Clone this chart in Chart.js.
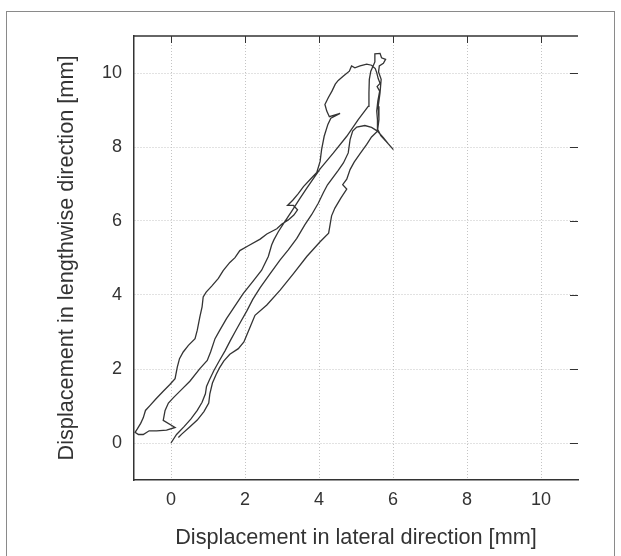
<!DOCTYPE html>
<html>
<head>
<meta charset="utf-8">
<script src="https://cdn.jsdelivr.net/npm/chart.js@4/dist/chart.umd.min.js"></script>
<style>
  html, body { margin: 0; padding: 0; background: #fff; }
  #wrap { position: relative; width: 621px; height: 556px; overflow: hidden; }
  #frame { position: absolute; left: 6px; top: 11px; width: 607px; height: 600px; border: 1px solid #8a8a8a; }
  #chart { position: absolute; left: 0; top: 0; }
</style>
</head>
<body>
<div id="wrap">
  <div id="frame"></div>
  <canvas id="chart" width="621" height="556"></canvas>
</div>
<script>
// tick values on both axes [mm]
const xTicks = [0, 2, 4, 6, 8, 10];
const yTicks = [0, 2, 4, 6, 8, 10];

// trajectory pieces, [lateral mm, lengthwise mm], in the order they were travelled
const riseFromOrigin = [
  [0, 0], [0.15, 0.23], [0.36, 0.45], [0.54, 0.65], [0.71, 0.88], [0.84, 1.10], [0.93, 1.33],
  [0.96, 1.53], [1.04, 1.71], [1.16, 1.96], [1.31, 2.23], [1.46, 2.49], [1.61, 2.78], [1.73, 3.00],
  [1.88, 3.27], [2.05, 3.57], [2.21, 3.88], [2.41, 4.20], [2.68, 4.58], [2.95, 4.95], [3.17, 5.22],
  [3.40, 5.53], [3.62, 5.90], [3.80, 6.17], [3.98, 6.48], [4.12, 6.77], [4.23, 6.98], [4.52, 7.37],
  [4.66, 7.57], [4.79, 7.84], [4.84, 8.20], [4.91, 8.43], [5.02, 8.54], [5.24, 8.58], [5.42, 8.53],
  [5.58, 8.43]
];
const tailSpike = [
  [5.74, 8.25], [5.87, 8.09], [6.01, 7.93], [5.83, 8.13], [5.67, 8.31], [5.59, 8.47]
];
const climbRightEdge = [
  [5.58, 8.74], [5.56, 8.97], [5.59, 9.24], [5.64, 9.51], [5.57, 9.63], [5.65, 9.72], [5.60, 9.85],
  [5.56, 10.01], [5.52, 10.12]
];
const upperLeftDescent = [
  [5.42, 10.21], [5.29, 10.24], [5.11, 10.19], [4.97, 10.14], [4.88, 10.19], [4.82, 10.05],
  [4.66, 9.92], [4.52, 9.80], [4.44, 9.70], [4.35, 9.51], [4.25, 9.33], [4.16, 9.15], [4.21, 8.97],
  [4.28, 8.82], [4.57, 8.91], [4.32, 8.78], [4.24, 8.61], [4.14, 8.29], [4.07, 7.93], [4.03, 7.61],
  [3.94, 7.31], [3.76, 7.12], [3.58, 6.93], [3.44, 6.74], [3.29, 6.56], [3.15, 6.42], [3.31, 6.42],
  [3.42, 6.30], [3.32, 6.16], [3.17, 6.03], [2.99, 5.91]
];
const lowerLeftDescent = [
  [2.86, 5.79], [2.59, 5.65], [2.41, 5.51], [2.09, 5.33], [1.86, 5.20], [1.73, 5.01], [1.59, 4.88],
  [1.41, 4.66], [1.28, 4.45], [1.10, 4.24], [0.95, 4.08], [0.87, 3.95], [0.84, 3.68], [0.78, 3.41],
  [0.71, 3.05], [0.65, 2.82], [0.47, 2.64], [0.33, 2.46], [0.23, 2.28], [0.17, 2.05], [0.11, 1.74],
  [-0.03, 1.58], [-0.21, 1.40], [-0.41, 1.19], [-0.57, 1.01], [-0.69, 0.88], [-0.75, 0.68],
  [-0.82, 0.53], [-0.91, 0.38], [-0.97, 0.29]
];
const bottomTurn = [
  [-0.88, 0.23], [-0.75, 0.23], [-0.59, 0.33], [-0.39, 0.33], [-0.12, 0.35], [0.11, 0.42], [-0.21, 0.61]
];
const middleRise = [
  [-0.16, 0.88], [-0.07, 1.08], [0.06, 1.22], [0.29, 1.45], [0.51, 1.67], [0.78, 2.01], [0.98, 2.23],
  [1.07, 2.46], [1.19, 2.82], [1.32, 3.05], [1.50, 3.36], [1.68, 3.63], [1.95, 4.04], [2.23, 4.39],
  [2.45, 4.67], [2.63, 5.04], [2.72, 5.35], [2.78, 5.49], [2.90, 5.71], [3.08, 5.99], [3.26, 6.26],
  [3.49, 6.62], [3.67, 6.89], [4.03, 7.41], [4.39, 7.84], [4.75, 8.29], [5.06, 8.74], [5.33, 9.10],
  [5.35, 9.47], [5.36, 9.83], [5.40, 10.05], [5.51, 10.30]
];
const topSquiggle = [
  [5.51, 10.52], [5.65, 10.53], [5.69, 10.41], [5.80, 10.37], [5.74, 10.26], [5.63, 10.19]
];
const rightEdgeDescent = [
  [5.61, 10.03], [5.68, 9.83], [5.65, 9.47], [5.60, 9.10], [5.62, 8.74], [5.58, 8.43]
];
const returnToStart = [
  [5.42, 8.27], [5.29, 8.07], [5.11, 7.82], [4.95, 7.59], [4.84, 7.39], [4.75, 7.13], [4.64, 6.98],
  [4.75, 6.86], [4.59, 6.62], [4.43, 6.35], [4.34, 6.14], [4.30, 5.90], [4.26, 5.67], [4.03, 5.44],
  [3.67, 5.04], [3.31, 4.58], [2.95, 4.13], [2.59, 3.73], [2.27, 3.45], [2.15, 3.16], [1.97, 2.73],
  [1.82, 2.55], [1.59, 2.40], [1.43, 2.22], [1.31, 2.03], [1.22, 1.85], [1.12, 1.62], [1.05, 1.33],
  [1.02, 1.08], [0.89, 0.85], [0.71, 0.62], [0.49, 0.42], [0.29, 0.24], [0.20, 0.15]
];

const path = [
  ...riseFromOrigin, ...tailSpike, ...climbRightEdge, ...upperLeftDescent, ...lowerLeftDescent,
  ...bottomTurn, ...middleRise, ...topSquiggle, ...rightEdgeDescent, ...returnToStart
].map(([x, y]) => ({ x, y }));

const FONT = "'Liberation Sans', Arial, Helvetica, sans-serif";
const ink = "#333";

// top border plus the small inward tics on top and right (gnuplot style)
const frameExtras = {
  id: "frameExtras",
  afterDraw(chart) {
    const { ctx, chartArea, scales } = chart;
    const { left, right, top } = chartArea;
    ctx.save();
    ctx.strokeStyle = ink;
    ctx.lineWidth = 1.5;
    ctx.beginPath();
    ctx.moveTo(left, top);
    ctx.lineTo(right, top);
    ctx.stroke();
    ctx.lineWidth = 1;
    ctx.beginPath();
    xTicks.forEach((v) => {
      const px = Math.round(scales.x.getPixelForValue(v)) + 0.5;
      ctx.moveTo(px, top);
      ctx.lineTo(px, top + 7);
    });
    yTicks.forEach((v) => {
      const py = Math.round(scales.y.getPixelForValue(v)) + 0.5;
      ctx.moveTo(right, py);
      ctx.lineTo(right - 8, py);
    });
    ctx.stroke();
    ctx.restore();
  },
};

new Chart(document.getElementById("chart"), {
  type: "scatter",
  data: {
    datasets: [
      {
        data: path,
        showLine: true,
        borderColor: "#343434",
        borderWidth: 1.3,
        pointRadius: 0,
        tension: 0,
        fill: false,
      },
    ],
  },
  options: {
    responsive: false,
    animation: false,
    events: [],
    layout: { padding: { left: 54, top: 36, right: 43, bottom: 5 } },
    plugins: { legend: { display: false }, tooltip: { enabled: false } },
    scales: {
      x: {
        type: "linear",
        min: -1,
        max: 11,
        afterBuildTicks: (scale) => { scale.ticks = xTicks.map((v) => ({ value: v })); },
        afterFit: (scale) => { scale.height = 71; },
        grid: { color: "#c4c4c4", lineWidth: 1, drawTicks: false },
        border: { display: true, color: ink, width: 1.5, dash: [1, 2] },
        ticks: { color: ink, padding: 9, font: { family: FONT, size: 18 } },
        title: {
          display: true,
          text: "Displacement in lateral direction [mm]",
          color: ink,
          padding: 0,
          font: { family: FONT, size: 21.7 },
        },
      },
      y: {
        type: "linear",
        min: -1,
        max: 11,
        afterBuildTicks: (scale) => { scale.ticks = yTicks.map((v) => ({ value: v })); },
        afterFit: (scale) => { scale.width = 80; },
        grid: { color: "#c4c4c4", lineWidth: 1, drawTicks: false },
        border: { display: true, color: ink, width: 1.5, dash: [1, 2] },
        ticks: { color: ink, padding: 12, font: { family: FONT, size: 18 } },
        title: {
          display: true,
          text: "Displacement in lengthwise direction [mm]",
          color: ink,
          padding: 0,
          font: { family: FONT, size: 21.7 },
        },
      },
    },
  },
  plugins: [frameExtras],
});
</script>
</body>
</html>
